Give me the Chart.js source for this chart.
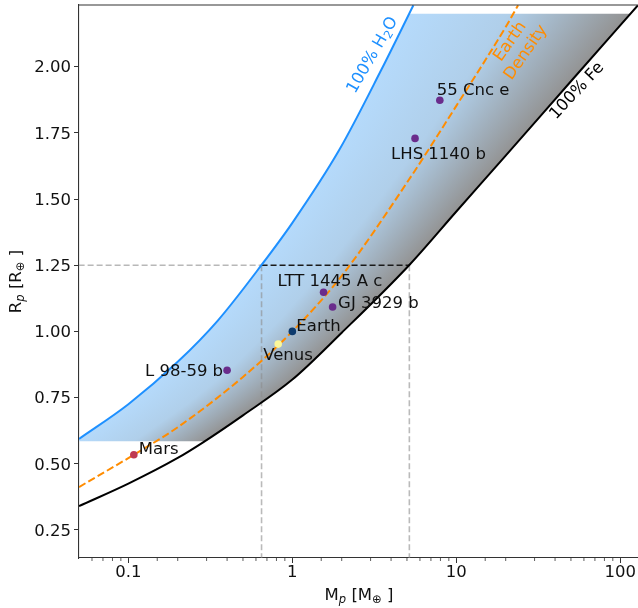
<!DOCTYPE html>
<html>
<head>
<meta charset="utf-8">
<script src="https://cdn.jsdelivr.net/npm/chart.js@4.4.0/dist/chart.umd.min.js"></script>
<style>
html, body { margin: 0; padding: 0; background: #fff; overflow: hidden; width: 638px; height: 608px; }
canvas { display: block; }
</style>
</head>
<body>
<canvas id="myChart" width="643" height="608"></canvas>
<script>
// planets (mass in Earth masses, radius in Earth radii)
const planetNames = ['Mars', 'Venus', 'Earth', 'L 98-59 b', 'LTT 1445 A c', 'GJ 3929 b', 'LHS 1140 b', '55 Cnc e'];
const planetMass = [0.108, 0.82, 1.0, 0.40, 1.55, 1.76, 5.6, 7.93];
const planetRadius = [0.534, 0.952, 1.0, 0.853, 1.148, 1.092, 1.729, 1.873];

// composition curves
const feMass = [0.05, 0.1, 0.2, 0.284, 0.5, 1.0, 2.0, 5.17, 10, 20, 50, 128];
const feRadius = [0.340, 0.425, 0.522, 0.580, 0.683, 0.818, 0.995, 1.251, 1.453, 1.664, 1.945, 2.232];

const earthMass = [0.05, 0.108, 0.2, 0.5, 1.0, 2.0, 5.0, 10, 20, 23.8];
const earthRadius = [0.412, 0.534, 0.638, 0.828, 1.0, 1.21, 1.562, 1.852, 2.150, 2.232];

const h2oMass = [0.05, 0.1, 0.2, 0.35, 0.649, 1.0, 1.93, 3.5, 5.47];
const h2oRadius = [0.594, 0.725, 0.885, 1.040, 1.251, 1.410, 1.685, 1.990, 2.232];

// shaded band limits and reference lines
const bandRadius = [0.585, 2.2];
const refRadius = 1.25;
const refMass = [0.649, 5.17];

// axis ticks
const yTicks = [0.25, 0.50, 0.75, 1.00, 1.25, 1.50, 1.75, 2.00];

// styles
const planetColors = ['#bf3a52', '#fbf79a', '#0d3b6e', '#6a2c8c', '#6a2c8c', '#6a2c8c', '#6a2c8c', '#6a2c8c'];
const labelOffsets = [[5, -5, 'left'], [-15, 12, 'left'], [4, -5, 'left'], [-4, 1, 'right'],
  [-46, -10.5, 'left'], [5.5, -3, 'left'], [-24, 16, 'left'], [-3, -9.5, 'left']];
const FONT = 'DejaVu Sans';
const FS = 16.5;

function pts(xs, ys) {
  return xs.map((x, i) => ({ x: x, y: ys[i] }));
}

function setFont(ctx, size, italic) {
  ctx.font = (italic ? 'italic ' : '') + size + 'px "' + FONT + '"';
}

// draw text made of parts: [text, kind] kind '' normal, 's' subscript, 'si' italic subscript
function drawParts(ctx, parts, x, y, size) {
  const sub = size * 0.7;
  const widths = parts.map(p => {
    setFont(ctx, p[1] ? sub : size, p[1] === 'si');
    return ctx.measureText(p[0]).width;
  });
  const total = widths.reduce((a, b) => a + b, 0);
  let cx = x - total / 2;
  ctx.textAlign = 'left';
  ctx.textBaseline = 'middle';
  parts.forEach((p, i) => {
    setFont(ctx, p[1] ? sub : size, p[1] === 'si');
    ctx.fillText(p[0], cx, y + (p[1] ? size * 0.25 : 0));
    cx += widths[i];
  });
}

function xAtY(points, y) {
  const n = points.length;
  for (let i = 0; i < n - 1; i++) {
    const a = points[i], b = points[i + 1];
    if ((y <= a.y && y >= b.y) || (y >= a.y && y <= b.y)) {
      const t = (y - a.y) / (b.y - a.y || 1);
      return a.x + t * (b.x - a.x);
    }
  }
  let a, b;
  if (y > points[0].y) { a = points[0]; b = points[1]; } else { a = points[n - 2]; b = points[n - 1]; }
  return a.x + (y - a.y) / (b.y - a.y) * (b.x - a.x);
}

function trace(ctx, p, reverse) {
  const n = p.length;
  if (!reverse) {
    ctx.lineTo(p[0].x, p[0].y);
    for (let i = 1; i < n; i++) {
      ctx.bezierCurveTo(p[i - 1].cp2x, p[i - 1].cp2y, p[i].cp1x, p[i].cp1y, p[i].x, p[i].y);
    }
  } else {
    ctx.lineTo(p[n - 1].x, p[n - 1].y);
    for (let i = n - 2; i >= 0; i--) {
      ctx.bezierCurveTo(p[i + 1].cp1x, p[i + 1].cp1y, p[i].cp2x, p[i].cp2y, p[i].x, p[i].y);
    }
  }
}

const DS_PLANETS = 0, DS_EARTH = 1, DS_H2O = 2, DS_FE = 3;

const bandPlugin = {
  id: 'band',
  beforeDatasetsDraw(chart) {
    const ctx = chart.ctx, area = chart.chartArea, ys = chart.scales.y;
    const h2o = chart.getDatasetMeta(DS_H2O).data;
    const fe = chart.getDatasetMeta(DS_FE).data;
    const yTop = ys.getPixelForValue(bandRadius[1]);
    const yBot = ys.getPixelForValue(bandRadius[0]);
    ctx.save();
    ctx.beginPath();
    ctx.rect(area.left, yTop, area.right - area.left, yBot - yTop);
    ctx.clip();
    ctx.beginPath();
    ctx.moveTo(h2o[0].x, h2o[0].y);
    trace(ctx, h2o, false);
    trace(ctx, fe, true);
    ctx.closePath();
    ctx.clip();
    for (let y = Math.floor(yTop); y < yBot; y++) {
      const xh = xAtY(h2o, y + 0.5), xf = xAtY(fe, y + 0.5);
      const g = ctx.createLinearGradient(xh, 0, xf, 0);
      g.addColorStop(0, '#b5dafb');
      g.addColorStop(0.45, '#b0cfea');
      g.addColorStop(1, '#939393');
      ctx.fillStyle = g;
      ctx.fillRect(area.left, y, area.right - area.left, 1);
    }
    ctx.restore();
  },
  afterDatasetsDraw(chart) {
    const ctx = chart.ctx;
    const pm = chart.getDatasetMeta(DS_PLANETS).data;
    ctx.save();
    ctx.fillStyle = '#111';
    setFont(ctx, FS, false);
    ctx.textBaseline = 'middle';
    pm.forEach((el, i) => {
      const o = labelOffsets[i];
      ctx.textAlign = o[2];
      ctx.fillText(planetNames[i], el.x + o[0], el.y + o[1]);
    });
    ctx.restore();

    // rotated curve labels, anchored in data coordinates
    const xs = chart.scales.x, ys = chart.scales.y;
    const rot = (m, r, deg, color, lines) => {
      ctx.save();
      ctx.translate(xs.getPixelForValue(m), ys.getPixelForValue(r));
      ctx.rotate(deg * Math.PI / 180);
      ctx.fillStyle = color;
      lines.forEach((parts, k) => drawParts(ctx, parts, 0, (k - (lines.length - 1) / 2) * 19, FS));
      ctx.restore();
    };
    rot(3.09, 2.043, -60, '#1e90ff', [[['100% H', ''], ['2', 's'], ['O', '']]]);
    rot(23.8, 2.074, -55, '#ff8c00', [[['Earth', '']], [['Density', '']]]);
    rot(54.5, 1.908, -47, '#000', [[['100% Fe', '']]]);
  },
  afterDraw(chart) {
    const ctx = chart.ctx, area = chart.chartArea, xs = chart.scales.x;
    ctx.save();
    // top and right spines
    ctx.strokeStyle = '#333';
    ctx.lineWidth = 1.1;
    ctx.beginPath();
    ctx.moveTo(area.left, area.top);
    ctx.lineTo(area.right, area.top);
    ctx.lineTo(area.right, area.bottom);
    ctx.stroke();
    // minor x ticks
    ctx.lineWidth = 0.8;
    xs.ticks.forEach(t => {
      const l = Math.log10(t.value);
      if (Math.abs(l - Math.round(l)) < 1e-6) return;
      const px = xs.getPixelForValue(t.value);
      if (px <= area.left + 1 || px >= area.right - 1) return;
      ctx.beginPath();
      ctx.moveTo(px, area.bottom);
      ctx.lineTo(px, area.bottom + 3);
      ctx.stroke();
    });
    // axis titles
    ctx.fillStyle = '#111';
    drawParts(ctx, [['M', ''], ['p', 'si'], [' [M', ''], ['\u2295', 's'], [' ]', '']], (area.left + area.right) / 2, 596, FS);
    ctx.translate(16.5, (area.top + area.bottom) / 2);
    ctx.rotate(-Math.PI / 2);
    drawParts(ctx, [['R', ''], ['p', 'si'], [' [R', ''], ['\u2295', 's'], [' ]', '']], 0, 0, FS);
    ctx.restore();
  }
};

Chart.defaults.font.family = FONT;
Chart.defaults.font.size = FS;
Chart.defaults.color = '#111';

const dashed = [7.5, 3.3];

const ctx = document.getElementById('myChart');
new Chart(ctx, {
  type: 'line',
  data: {
    datasets: [
      {
        label: 'planets',
        data: pts(planetMass, planetRadius),
        showLine: false,
        pointRadius: 3.8,
        pointBorderWidth: 0,
        pointBackgroundColor: planetColors,
        order: 0
      },
      {
        label: 'Earth density',
        data: pts(earthMass, earthRadius),
        borderColor: '#ff8c00',
        borderWidth: 2,
        borderDash: dashed,
        pointRadius: 0,
        cubicInterpolationMode: 'monotone',
        order: 1
      },
      {
        label: '100% H2O',
        data: pts(h2oMass, h2oRadius),
        borderColor: '#1e90ff',
        borderWidth: 2,
        pointRadius: 0,
        cubicInterpolationMode: 'monotone',
        order: 2
      },
      {
        label: '100% Fe',
        data: pts(feMass, feRadius),
        borderColor: '#000',
        borderWidth: 2,
        pointRadius: 0,
        cubicInterpolationMode: 'monotone',
        order: 3
      },
      {
        label: 'ref inside',
        data: [{ x: refMass[0], y: refRadius }, { x: refMass[1], y: refRadius }],
        borderColor: '#1a1a1a',
        borderWidth: 1.6,
        borderDash: [6, 3],
        pointRadius: 0,
        order: 4
      },
      {
        label: 'ref left',
        data: [{ x: 0.03, y: refRadius }, { x: refMass[0], y: refRadius }],
        borderColor: '#b8b8b8',
        borderWidth: 1.6,
        borderDash: [6, 3],
        pointRadius: 0,
        order: 5
      },
      {
        label: 'ref low',
        data: [{ x: refMass[0], y: refRadius }, { x: refMass[0], y: 0.05 }],
        borderColor: 'rgba(140,140,140,0.6)',
        borderWidth: 1.6,
        borderDash: [6, 3],
        pointRadius: 0,
        order: 5
      },
      {
        label: 'ref high',
        data: [{ x: refMass[1], y: refRadius }, { x: refMass[1], y: 0.05 }],
        borderColor: 'rgba(140,140,140,0.6)',
        borderWidth: 1.6,
        borderDash: [6, 3],
        pointRadius: 0,
        order: 5
      }
    ]
  },
  options: {
    responsive: false,
    animation: false,
    layout: { padding: { top: 5, right: 0, left: 0, bottom: 0 } },
    plugins: {
      legend: { display: false },
      tooltip: { enabled: false }
    },
    scales: {
      x: {
        type: 'logarithmic',
        min: 0.05,
        max: 130,
        afterFit: s => { s.height = 50; s.paddingLeft = 0; s.paddingRight = 0; },
        border: { color: '#333', width: 1.1 },
        grid: {
          drawOnChartArea: false,
          tickLength: 5,
          tickWidth: 1,
          tickColor: c => {
            const l = Math.log10(c.tick.value);
            return Math.abs(l - Math.round(l)) < 1e-6 ? '#333' : 'rgba(0,0,0,0)';
          }
        },
        ticks: {
          autoSkip: false,
          maxRotation: 0,
          padding: 0,
          color: '#111',
          font: { size: FS },
          callback: v => {
            const l = Math.log10(v);
            if (Math.abs(l - Math.round(l)) > 1e-6) return '';
            return String(v);
          }
        }
      },
      y: {
        min: 0.144,
        max: 2.233,
        afterFit: s => { s.width = 79; s.paddingTop = 0; s.paddingBottom = 0; },
        afterBuildTicks: s => { s.ticks = yTicks.map(v => ({ value: v })); },
        border: { color: '#333', width: 1.1 },
        grid: { drawOnChartArea: false, tickLength: 5, tickColor: '#333' },
        ticks: {
          padding: 3,
          labelOffset: 1.5,
          color: '#111',
          font: { size: FS },
          callback: v => v.toFixed(2)
        }
      }
    }
  },
  plugins: [bandPlugin]
});
</script>
</body>
</html>
